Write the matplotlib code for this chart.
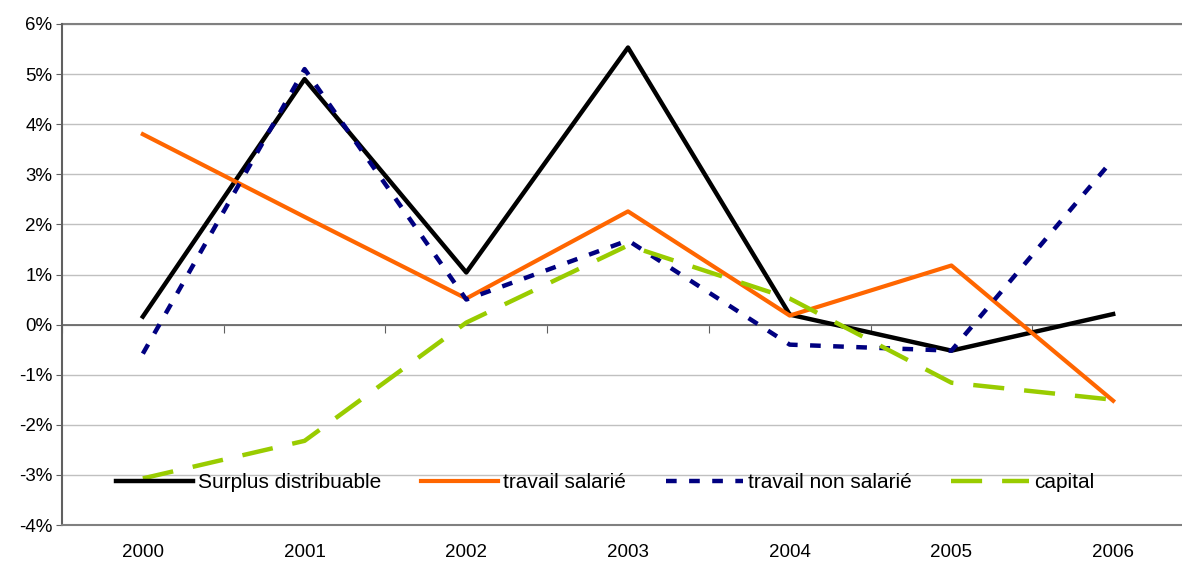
import matplotlib
matplotlib.use("Agg")
import matplotlib.pyplot as plt
import numpy as np

years = ["2000", "2001", "2002", "2003", "2004", "2005", "2006"]
surplus = [0.16, 4.9, 1.04, 5.53, 0.2, -0.52, 0.21]
salarie = [3.8, 2.15, 0.52, 2.26, 0.18, 1.18, -1.52]
non_salarie = [-0.58, 5.1, 0.5, 1.68, -0.4, -0.52, 3.3]
capital = [-3.07, -2.32, 0.04, 1.58, 0.52, -1.16, -1.5]
yticks = [-4, -3, -2, -1, 0, 1, 2, 3, 4, 5, 6]

plt.rcParams['font.family'] = ['Liberation Sans', 'DejaVu Sans']

fig = plt.figure(figsize=(11.82, 5.65), dpi=100)
ax = fig.add_axes([62/1182, 1-525/565, (1194-62)/1182, (525-24)/565])
x = np.arange(len(years))

ax.plot(x, surplus, color='black', lw=3.2, label='Surplus distribuable')
ax.plot(x, salarie, color='#FF6600', lw=3.0, label='travail salarié')
ax.plot(x, non_salarie, color='#000080', lw=3.2, dashes=(2.4, 2.8), label='travail non salarié')
ax.plot(x, capital, color='#99CC00', lw=3.2, dashes=(7, 4.5), label='capital')

ax.set_xlim(-0.5, 6.5)
ax.set_ylim(-4, 6)
ax.set_yticks(yticks)
ax.set_yticklabels([f"{v}%" for v in yticks], fontsize=13.5)
ax.yaxis.grid(True, color='#C0C0C0', lw=1)
ax.set_axisbelow(True)
ax.axhline(0, color='#606060', lw=1.2, zorder=1.5)

ax.set_xticks(x)
ax.set_xticklabels(years, fontsize=13.5)
ax.tick_params(axis='x', length=0, pad=14)
ax.tick_params(axis='y', length=4, color='#606060', pad=3)

# ticks on the zero line at category boundaries
sec = ax.secondary_xaxis(0.4)
sec.set_xticks(np.arange(-0.5, 7, 1))
sec.set_xticklabels([])
sec.tick_params(length=6, color='#606060', direction='out')
sec.spines['bottom'].set_visible(False)

for s in ['top', 'right']:
    ax.spines[s].set_visible(False)
ax.spines['left'].set_color('#606060')
ax.spines['left'].set_linewidth(1.5)
ax.spines['bottom'].set_color('#808080')
ax.spines['bottom'].set_linewidth(1.5)
ax.plot([0, 1], [1, 1], transform=ax.transAxes, color='#808080', lw=1.5, clip_on=False)

leg = ax.legend(loc='center', bbox_to_anchor=((605-62)/(1194-62), (525-483)/(525-24)),
                bbox_transform=ax.transAxes,
                ncol=4, frameon=False, fontsize=15, handlelength=3.7, handletextpad=0.25,
                columnspacing=1.9, borderpad=0, borderaxespad=0)

fig.savefig("out.png", dpi=100)
